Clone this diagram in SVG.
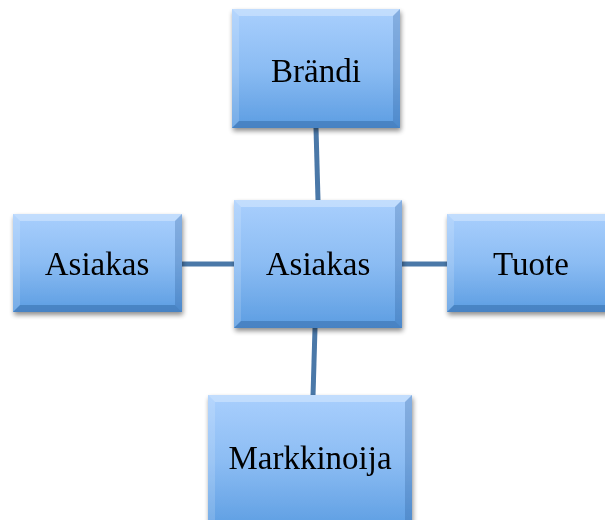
<svg xmlns="http://www.w3.org/2000/svg" width="605" height="520" viewBox="0 0 605 520">
<defs>
<linearGradient id="g" x1="0" y1="0" x2="0" y2="1">
<stop offset="0" stop-color="#a9cffd"/>
<stop offset="0.5" stop-color="#8bbcf3"/>
<stop offset="1" stop-color="#5c9de2"/>
</linearGradient>
<filter id="sh" x="-10%" y="-10%" width="125%" height="130%">
<feGaussianBlur in="SourceAlpha" stdDeviation="2.5"/>
<feOffset dx="1" dy="3" result="b"/>
<feComponentTransfer><feFuncA type="linear" slope="0.45"/></feComponentTransfer>
<feMerge><feMergeNode/><feMergeNode in="SourceGraphic"/></feMerge>
</filter>
</defs>
<style>
.box{fill:url(#g);}
.bt{fill:#ffffff;opacity:0.3;}
.bl{fill:#ffffff;opacity:0.15;}
.br{fill:#1f4f8a;opacity:0.25;}
.bb{fill:#1f4f8a;opacity:0.35;}
.lbl{font-family:"Liberation Serif","DejaVu Serif",serif;font-size:33px;fill:#000;text-anchor:middle;}
.con line{stroke:#4a78a8;stroke-width:5;}
</style>
<g class="con">
<line x1="316" y1="128" x2="318" y2="200"/>
<line x1="315" y1="328" x2="313" y2="396"/>
<line x1="182" y1="264" x2="234" y2="264"/>
<line x1="402" y1="264" x2="448" y2="264"/>
</g>
<g id="brandi" filter="url(#sh)">
<rect class="box" x="232" y="9" width="168" height="119"/>
<polygon class="bt" points="232,9 400,9 393,16 239,16"/>
<polygon class="bl" points="232,9 239,16 239,121 232,128"/>
<polygon class="br" points="400,9 400,128 393,121 393,16"/>
<polygon class="bb" points="232,128 239,121 393,121 400,128"/>
<text class="lbl" x="316" y="82">Brändi</text>
</g>
<g id="asiakas-left" filter="url(#sh)">
<rect class="box" x="13" y="214" width="169" height="98"/>
<polygon class="bt" points="13,214 182,214 175,221 20,221"/>
<polygon class="bl" points="13,214 20,221 20,305 13,312"/>
<polygon class="br" points="182,214 182,312 175,305 175,221"/>
<polygon class="bb" points="13,312 20,305 175,305 182,312"/>
<text class="lbl" x="97" y="275">Asiakas</text>
</g>
<g id="asiakas-center" filter="url(#sh)">
<rect class="box" x="234" y="200" width="168" height="128"/>
<polygon class="bt" points="234,200 402,200 395,207 241,207"/>
<polygon class="bl" points="234,200 241,207 241,321 234,328"/>
<polygon class="br" points="402,200 402,328 395,321 395,207"/>
<polygon class="bb" points="234,328 241,321 395,321 402,328"/>
<text class="lbl" x="318" y="275">Asiakas</text>
</g>
<g id="tuote" filter="url(#sh)">
<rect class="box" x="447" y="214" width="168" height="98"/>
<polygon class="bt" points="447,214 615,214 608,221 454,221"/>
<polygon class="bl" points="447,214 454,221 454,305 447,312"/>
<polygon class="bb" points="447,312 454,305 608,305 615,312"/>
<text class="lbl" x="531" y="275">Tuote</text>
</g>
<g id="markkinoija" filter="url(#sh)">
<rect class="box" x="208" y="395" width="204" height="135"/>
<polygon class="bt" points="208,395 412,395 405,402 215,402"/>
<polygon class="bl" points="208,395 215,402 215,530 208,530"/>
<polygon class="br" points="412,395 412,530 405,530 405,402"/>
<text class="lbl" x="310" y="469">Markkinoija</text>
</g>
</svg>
